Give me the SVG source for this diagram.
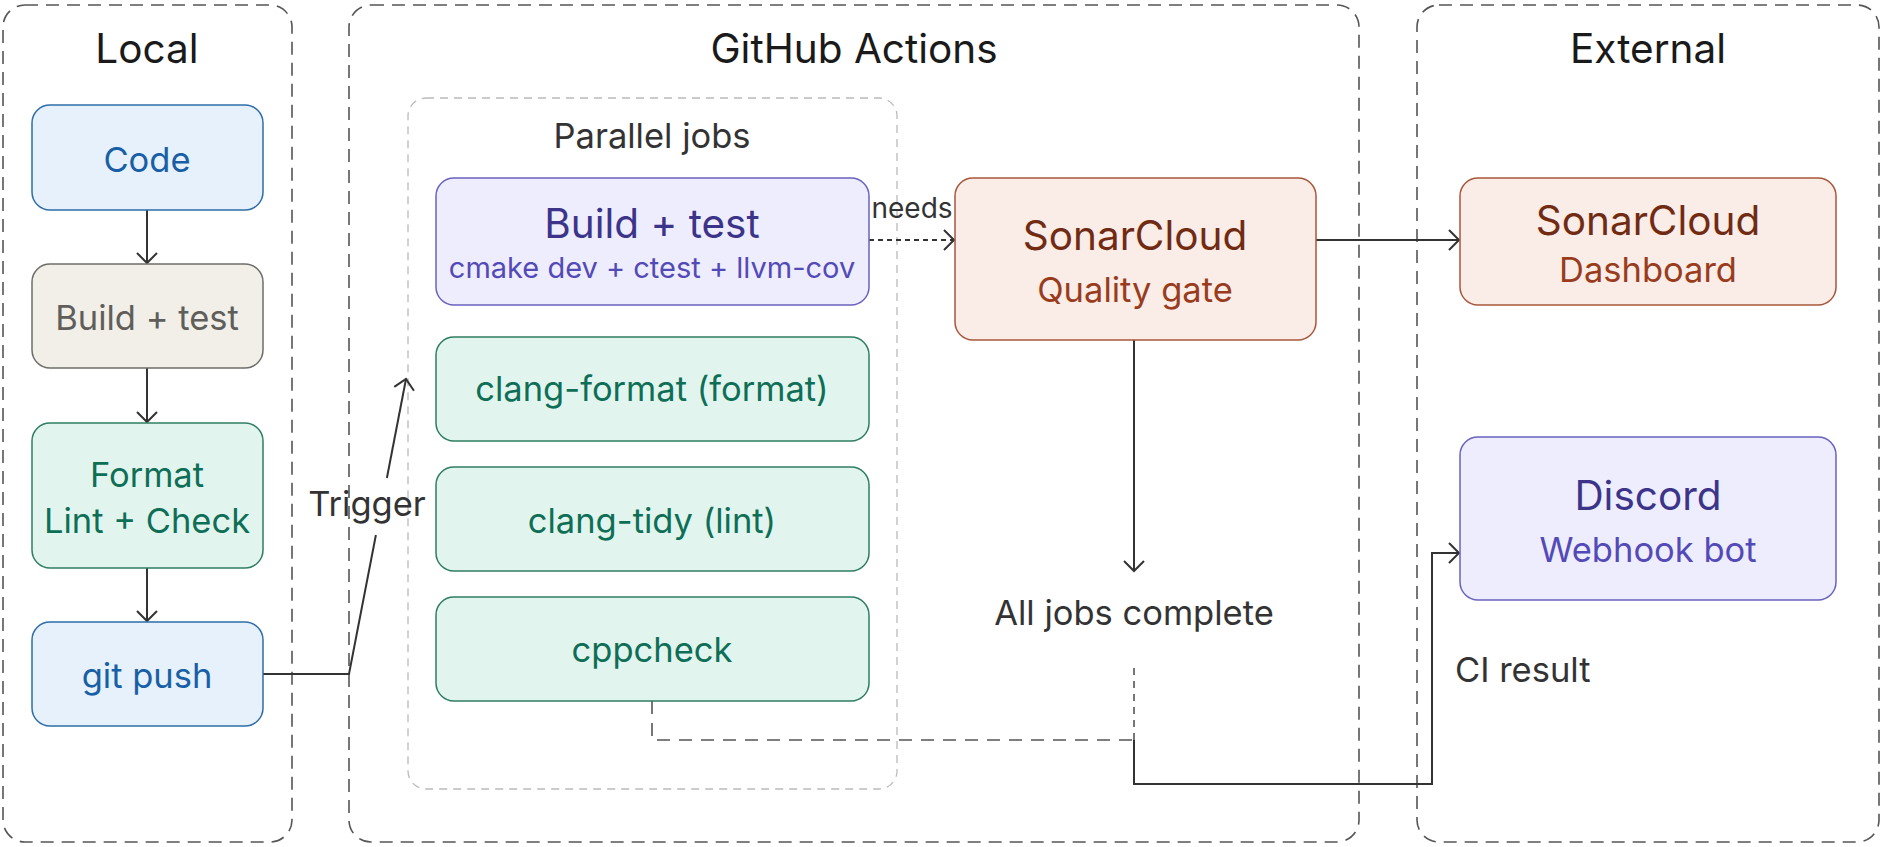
<svg xmlns="http://www.w3.org/2000/svg" width="1883" height="847" viewBox="0 0 1883 847">
<style>
  text { font-family: Inter, "Noto Sans", "Liberation Sans", sans-serif; text-anchor: middle; }
  .cluster { fill: none; stroke: #555; stroke-width: 1.6; stroke-dasharray: 13 8; }
  .inner { fill: none; stroke: #bbb; stroke-width: 1.3; stroke-dasharray: 8 6; }
  .ctitle { font-size: 40.5px; fill: #1a1a1a; }
  .blue { fill: #E6F1FB; stroke: #2E6DA8; stroke-width: 1.5; }
  .blue-t { fill: #185FA5; }
  .gray { fill: #F1EFE8; stroke: #6E6D68; stroke-width: 1.5; }
  .gray-t { fill: #5F5E5A; }
  .teal { fill: #E1F5EE; stroke: #2F7D62; stroke-width: 1.5; }
  .teal-t { fill: #0F6E56; }
  .purple { fill: #EEEDFE; stroke: #6A62C0; stroke-width: 1.5; }
  .purple-t { fill: #3C3489; }
  .purple-s { fill: #534AB7; }
  .coral { fill: #FAECE7; stroke: #A8573B; stroke-width: 1.5; }
  .coral-t { fill: #712B13; }
  .coral-s { fill: #993C1D; }
  .big { font-size: 40.5px; }
  .mid { font-size: 34.5px; }
  .edge { fill: none; stroke: #333; stroke-width: 2; }
  .dash-s { stroke-dasharray: 5 4; }
  .dash-l { fill: none; stroke: #555; stroke-width: 1.6; stroke-dasharray: 13 9; }
  .dash-m { fill: none; stroke: #555; stroke-width: 1.6; stroke-dasharray: 7 6; }
  .elabel { font-size: 34.5px; fill: #333; }
</style>
<defs>
  <marker id="arr" markerUnits="userSpaceOnUse" markerWidth="26" markerHeight="26" refX="13" refY="12" orient="auto">
    <path d="M3,2 L13,12 L3,22" fill="none" stroke="#333" stroke-width="2"/>
  </marker>
</defs>

<g id="cluster-local">
  <rect class="cluster" x="3" y="5" width="289" height="837" rx="22"/>
  <text class="ctitle" x="147" y="63">Local</text>
</g>
<g id="cluster-github">
  <rect class="cluster" x="349" y="5" width="1010" height="837" rx="22"/>
  <text class="ctitle" x="854" y="63">GitHub Actions</text>
</g>
<g id="cluster-external">
  <rect class="cluster" x="1417" y="5" width="462" height="837" rx="22"/>
  <text class="ctitle" x="1648" y="63">External</text>
</g>
<g id="cluster-parallel">
  <rect class="inner" x="408" y="98" width="489" height="691" rx="18"/>
  <text x="652" y="148" font-size="34.5" fill="#333">Parallel jobs</text>
</g>

<g id="connectors">
  <line class="edge" x1="147" y1="210" x2="147" y2="263" marker-end="url(#arr)"/>
  <line class="edge" x1="147" y1="368" x2="147" y2="422" marker-end="url(#arr)"/>
  <line class="edge" x1="147" y1="568" x2="147" y2="621" marker-end="url(#arr)"/>
  <polyline class="edge" points="263,674 349,674 375.9,535"/>
  <line class="edge" x1="386.9" y1="478" x2="406" y2="379" marker-end="url(#arr)"/>
  <text class="elabel" x="367" y="516" font-size="35">Trigger</text>
  <line class="edge dash-s" x1="869" y1="240" x2="954" y2="240" marker-end="url(#arr)"/>
  <text x="912" y="218" font-size="28" fill="#333">needs</text>
  <line class="edge" x1="1316" y1="240" x2="1459" y2="240" marker-end="url(#arr)"/>
  <line class="edge" x1="1134" y1="340" x2="1134" y2="571" marker-end="url(#arr)"/>
  <text class="elabel" x="1134" y="625">All jobs complete</text>
  <polyline class="dash-l" points="652,701 652,740 1134,740"/>
  <line class="dash-m" x1="1134" y1="668" x2="1134" y2="740"/>
  <polyline class="edge" points="1134,740 1134,784 1432,784 1432,553 1459,553" marker-end="url(#arr)"/>
  <text class="elabel" x="1455" y="682" style="text-anchor:start">CI result</text>
</g>

<g id="node-code">
  <rect class="blue" x="32" y="105" width="231" height="105" rx="18"/>
  <text class="blue-t mid" x="147" y="172">Code</text>
</g>
<g id="node-build-local">
  <rect class="gray" x="32" y="264" width="231" height="104" rx="18"/>
  <text class="gray-t mid" x="147" y="330">Build + test</text>
</g>
<g id="node-format">
  <rect class="teal" x="32" y="423" width="231" height="145" rx="18"/>
  <text class="teal-t mid" x="147" y="487">Format</text>
  <text class="teal-t mid" x="147" y="533">Lint + Check</text>
</g>
<g id="node-push">
  <rect class="blue" x="32" y="622" width="231" height="104" rx="18"/>
  <text class="blue-t mid" x="147" y="688">git push</text>
</g>

<g id="node-build-ci">
  <rect class="purple" x="436" y="178" width="433" height="127" rx="18"/>
  <text class="purple-t big" x="652" y="238">Build + test</text>
  <text class="purple-s" x="652" y="278" font-size="29">cmake dev + ctest + llvm-cov</text>
</g>
<g id="node-clang-format">
  <rect class="teal" x="436" y="337" width="433" height="104" rx="18"/>
  <text class="teal-t mid" x="652" y="401">clang-format (format)</text>
</g>
<g id="node-clang-tidy">
  <rect class="teal" x="436" y="467" width="433" height="104" rx="18"/>
  <text class="teal-t mid" x="652" y="533">clang-tidy (lint)</text>
</g>
<g id="node-cppcheck">
  <rect class="teal" x="436" y="597" width="433" height="104" rx="18"/>
  <text class="teal-t mid" x="652" y="662">cppcheck</text>
</g>

<g id="node-sonar-gate">
  <rect class="coral" x="955" y="178" width="361" height="162" rx="18"/>
  <text class="coral-t big" x="1135" y="250">SonarCloud</text>
  <text class="coral-s mid" x="1135" y="302">Quality gate</text>
</g>
<g id="node-sonar-dash">
  <rect class="coral" x="1460" y="178" width="376" height="127" rx="18"/>
  <text class="coral-t big" x="1648" y="235">SonarCloud</text>
  <text class="coral-s mid" x="1648" y="282">Dashboard</text>
</g>
<g id="node-discord">
  <rect class="purple" x="1460" y="437" width="376" height="163" rx="18"/>
  <text class="purple-t big" x="1648" y="510">Discord</text>
  <text class="purple-s mid" x="1648" y="562">Webhook bot</text>
</g>
</svg>
